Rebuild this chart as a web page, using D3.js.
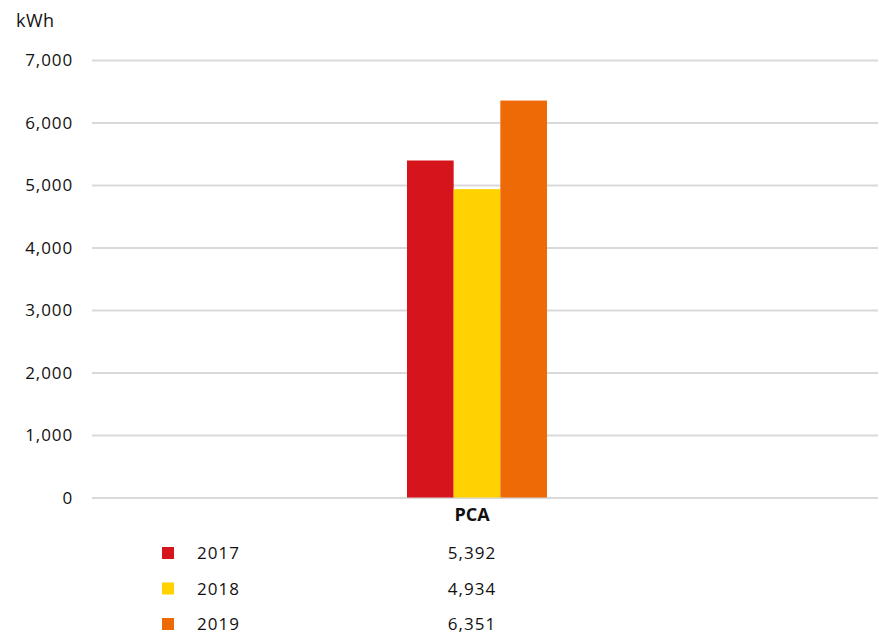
<!DOCTYPE html>
<html>
<head>
<meta charset="utf-8">
<script src="https://cdn.jsdelivr.net/npm/d3@7"></script>
<style>
  html, body { margin: 0; padding: 0; background: #fff; }
  svg text { font-family: "Open Sans", "Noto Sans", sans-serif; fill: #111; }
</style>
</head>
<body>
<svg id="chart" width="879" height="638"></svg>
<script>
// Energy use per year, kWh
const categories = ["PCA"];
const years = ["2017", "2018", "2019"];
const values2017 = [5392];
const values2018 = [4934];
const values2019 = [6351];
const yTicks = [0, 1000, 2000, 3000, 4000, 5000, 6000, 7000];
const colors = ["#d5141c", "#ffd200", "#ee6a07"];

const series = [values2017, values2018, values2019];

const svg = d3.select("#chart");

const y = d3.scaleLinear().domain([0, 7000]).range([497.5, 60]);
const x0 = d3.scaleBand().domain(categories).range([92, 862]).paddingInner(0).paddingOuter(0);
const x1 = d3.scaleBand().domain(years).range([0, 140]);
const fmt = d3.format(",");

// Horizontal grid
const grid = svg.append("g").attr("transform", "translate(92,0)")
  .call(d3.axisLeft(y).tickValues(yTicks).tickSize(-(878 - 92)).tickFormat(""));
grid.select(".domain").remove();
grid.selectAll("line").attr("stroke", "#d9d9d9").attr("stroke-width", 2);

// Tick labels
svg.append("g").selectAll("text").data(yTicks).join("text")
  .attr("x", 73).attr("y", d => y(d) + 6)
  .attr("text-anchor", "end")
  .style("font-size", "17px").style("letter-spacing", "0.9px")
  .text(d => fmt(d));

// Unit
svg.append("text").attr("x", 16).attr("y", 27)
  .style("font-size", "18px").style("letter-spacing", "0.5px").text("kWh");

// Bars
const groups = svg.append("g").selectAll("g").data(categories).join("g")
  .attr("transform", c => `translate(${x0(c) + x0.bandwidth() / 2 - 70},0)`);
groups.selectAll("rect").data((c, i) => years.map((yr, k) => ({ yr, k, v: series[k][i] })))
  .join("rect")
  .attr("x", d => x1(d.yr))
  .attr("width", x1.bandwidth())
  .attr("y", d => y(d.v))
  .attr("height", d => y(0) - y(d.v))
  .attr("fill", d => colors[d.k]);

// Category label
svg.append("g").selectAll("text").data(categories).join("text")
  .attr("x", c => x0(c) + x0.bandwidth() / 2 - 5)
  .attr("y", 521)
  .attr("text-anchor", "middle")
  .style("font-size", "18px").style("font-weight", "bold")
  .text(c => c);

// Data table legend
const rowY = d3.scalePoint().domain(years).range([553, 624]);
const rows = svg.append("g").selectAll("g").data(years).join("g");
rows.append("rect")
  .attr("x", 162).attr("y", d => rowY(d) - 6)
  .attr("width", 12).attr("height", 12)
  .attr("fill", (d, k) => colors[k]);
rows.append("text")
  .attr("x", 197).attr("y", d => rowY(d) + 6)
  .style("font-size", "17px").style("letter-spacing", "1px")
  .text(d => d);
rows.append("text")
  .attr("x", x0("PCA") + x0.bandwidth() / 2 - 5)
  .attr("y", d => rowY(d) + 6)
  .attr("text-anchor", "middle")
  .style("font-size", "17px").style("letter-spacing", "1px")
  .text((d, k) => fmt(series[k][0]));
</script>
</body>
</html>
